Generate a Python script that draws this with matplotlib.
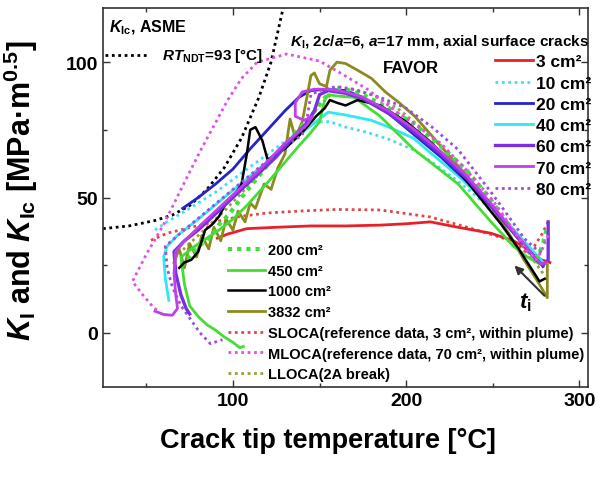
import numpy as np
import matplotlib.pyplot as plt
from matplotlib.ticker import MultipleLocator

plt.rcParams['font.family'] = ['Liberation Sans', 'DejaVu Sans']
plt.rcParams['font.weight'] = 'bold'
plt.rcParams['mathtext.fontset'] = 'custom'
plt.rcParams['mathtext.rm'] = 'Liberation Sans:bold'
plt.rcParams['mathtext.it'] = 'Liberation Sans:italic:bold'
plt.rcParams['mathtext.bf'] = 'Liberation Sans:bold'

# ASME KIc lower bound, RTndt = 93 C
kic_t = [25, 40, 55, 65, 75, 85, 95, 105, 115, 122, 129]
kic_k = [38.5, 39.5, 41.5, 43.5, 47, 53, 61, 72, 87, 100, 120]

# FAVOR KI trajectories (crack tip temperature, KI) per break size
t3 = [91, 97, 108, 125, 145, 165, 185, 200, 214, 230, 249, 262, 270, 278, 283]
k3 = [35, 36.5, 38.5, 39, 39.5, 39.5, 39.8, 40.3, 41, 39, 36.8, 34, 31, 27, 26]

t10 = [55, 62, 75, 90, 105, 120, 135, 148, 156, 165, 178, 190, 204, 215, 230, 245, 258, 268, 275, 279]
k10 = [38, 41, 46, 52, 59, 66, 73, 78, 78, 76, 74, 71.5, 67.7, 63, 56, 48, 40, 33, 28, 25]

t20 = [71, 80, 90, 100, 110, 120, 130, 138, 145, 155, 165, 175, 190, 205, 220, 235, 250, 262, 270, 276, 279]
k20 = [46, 50, 55, 60.5, 68, 75, 82, 87, 89.5, 90, 89.5, 87, 81, 73, 65, 56, 46, 37, 31, 27, 24.5]

t40 = [63, 61, 60, 62, 68, 80, 95, 110, 125, 140, 150, 155, 165, 180, 190, 204, 215, 230, 245, 258, 268, 275, 279]
k40 = [12, 20, 28, 32, 36, 42, 50, 58, 66, 74, 79, 81.5, 80.5, 78.5, 76, 72, 66, 58, 49, 41, 34, 29, 26]

t60 = [282, 282, 279, 275, 270, 262, 250, 235, 220, 205, 190, 175, 165, 155, 150, 147, 142, 133, 125, 115, 100, 90, 80, 72, 66, 67, 70, 73, 75]
k60 = [41, 27, 25, 27, 31, 37, 46, 57, 66, 74, 81, 86.5, 88.5, 89.5, 88, 82, 77, 71, 65, 59, 50, 44, 38, 34, 30, 22, 14, 9, 7]

t70 = [281, 278, 274, 268, 260, 250, 235, 220, 205, 190, 175, 165, 155, 147, 140, 136, 136, 141, 146, 143, 130, 115, 100, 85, 72, 67, 66, 67, 68, 65, 60, 55]
k70 = [26, 25.5, 28, 33, 39, 47, 58, 67, 75, 82, 87, 89, 90, 90, 89, 85, 80, 78.5, 80, 77, 70, 60, 51, 42, 34, 30, 22, 14, 9, 6.5, 6.8, 8]

t80 = [278, 274, 268, 262, 249, 230, 215, 200, 185, 170, 160, 152, 145, 143, 140, 130, 115, 100, 85, 70, 61, 62, 65, 70, 75, 81, 87, 94]
k80 = [29.5, 31.5, 35, 40.5, 52, 67.7, 76, 83, 87, 90, 91, 90, 88, 80, 73, 69, 61, 53, 45, 37, 32, 24, 17, 10, 5.5, 0, -4, -2.5]

t200 = [281, 279, 276, 272, 266, 258, 248, 235, 220, 205, 190, 175, 165, 158, 152, 145, 135, 125, 115, 105, 98, 92, 88, 82, 76, 72, 68]
k200 = [38, 33, 28, 29, 34, 41, 50, 60, 69, 77, 83, 88, 90, 90.5, 86, 80, 73, 66, 58, 50, 44, 40, 36, 33, 29, 26, 24]

t450 = [277, 270, 262, 249, 230, 204, 185, 170, 160, 155, 153, 150, 145, 138, 130, 122, 115, 108, 100, 92, 85, 78, 70, 72, 75, 80, 85, 90, 95, 100, 104, 106]
k450 = [25.5, 28, 32, 41, 55, 68, 80, 87, 87.5, 88, 86, 78, 74, 69, 63, 57, 52, 47, 42, 38, 35, 32, 28, 18, 10, 6, 3, 1, -1.5, -3.5, -5.5, -5]

t1000 = [280, 277, 272, 265, 255, 245, 230, 215, 200, 185, 172, 165, 160, 156, 153, 148, 140, 130, 120, 117, 113, 110, 108, 105, 100, 96, 92, 88, 84, 80, 76, 72, 69]
k1000 = [20, 19, 24, 31, 40, 48, 60, 70, 78, 84, 86, 84, 85, 86, 83, 80, 74, 68, 64, 71, 76, 75, 66, 55, 50, 48, 43, 40, 38, 30, 27, 26, 24]

t3832 = [281.5, 281.5, 275, 268, 260, 250, 235, 220, 205, 196, 188, 180, 172, 165, 160, 156, 154, 150, 147, 145, 143, 140, 136, 133, 130, 126, 122, 118, 113, 110, 107, 103, 100, 96, 93, 89, 86, 82, 79, 75, 72, 69, 66]
k3832 = [25, 13, 20, 27, 36, 46, 58, 69, 80, 85, 89, 94, 97, 99.5, 100, 97, 91, 92, 96, 95, 88, 78, 72, 79, 66, 61, 53, 55, 46, 48, 41, 45, 38, 42, 34, 39, 31, 36, 28, 33, 24, 31, 26]

# reference transients
tS = [282, 278, 273, 269, 266, 256, 237, 214, 185, 160, 139, 120, 104, 81, 62, 52]
kS = [41, 36, 31, 30, 31.6, 35, 38.7, 42.8, 45.4, 45.6, 45, 44.3, 43, 39.8, 36.8, 34]

tM = [282, 278, 275, 270, 262, 250, 235, 220, 205, 195, 177.6, 162, 150, 131, 114, 105, 97, 81, 70, 60, 50, 42, 48, 54, 57]
kM = [36, 30, 27, 30, 38, 49, 60, 70, 77, 81.4, 90, 96, 100.4, 103, 100, 94, 86, 67, 53, 40, 29, 19, 14, 9.5, 8]

tL = [279, 270, 255, 240, 225, 210, 195, 180, 168, 158, 150, 140, 125, 110, 95, 80, 70]
kL = [22, 30, 43, 55, 66, 75, 83, 88, 90, 89, 84, 76, 66, 55, 45, 36, 30]

dot = (0, (1, 1.3))

fig = plt.figure(figsize=(6.01, 4.81), dpi=100)
ax = fig.add_axes([0.1714, 0.1933, 0.8070, 0.7880])

ax.plot(kic_t, kic_k, color='black', ls=dot, lw=2)
# legend sample for the KIc curve
ax.plot([26, 51], [102.5, 102.5], color='black', ls=dot, lw=2)

hS, = ax.plot(tS, kS, color='#e04848', ls=dot, lw=2)
hL, = ax.plot(tL, kL, color='#9c9c40', ls=dot, lw=2)
h3, = ax.plot(t3, k3, color='#e8202a', lw=2)
h10, = ax.plot(t10, k10, color='#40e0f0', ls=dot, lw=2)
h40, = ax.plot(t40, k40, color='#30e8f0', lw=2)
h20, = ax.plot(t20, k20, color='#2424c8', lw=2)
h3832, = ax.plot(t3832, k3832, color='#8c8c1e', lw=2)
h450, = ax.plot(t450, k450, color='#44dd33', lw=2)
h200, = ax.plot(t200, k200, color='#3ee03e', ls=(0, (1, 1.2)), lw=3)
h1000, = ax.plot(t1000, k1000, color='black', lw=1.8)
h80, = ax.plot(t80, k80, color='#9a4ee0', ls=dot, lw=2)
h60, = ax.plot(t60, k60, color='#7a30e0', lw=2.4)
h70, = ax.plot(t70, k70, color='#c040e8', lw=2)
hM, = ax.plot(tM, kM, color='#e050e8', ls=dot, lw=2)

ax.set_xlim(25, 305)
ax.set_ylim(-20, 120)
ax.xaxis.set_major_locator(MultipleLocator(100))
ax.xaxis.set_minor_locator(MultipleLocator(50))
ax.yaxis.set_major_locator(MultipleLocator(50))
ax.yaxis.set_minor_locator(MultipleLocator(25))
ax.tick_params(which='both', direction='in', top=True, right=True, labelsize=14, width=1, color='#333333')
ax.tick_params(which='major', length=5)
ax.tick_params(which='minor', length=3)
for s in ax.spines.values():
    s.set_color('#333333')
    s.set_linewidth(1.2)

ax.set_xlabel('Crack tip temperature [°C]', fontsize=19.5, fontweight='bold')
ax.xaxis.set_label_coords(0.464, -0.105)
ax.set_ylabel(r'$K_\mathrm{I}$ and $K_\mathrm{Ic}$ [MPa·m$^{0.5}$]', fontsize=22, fontweight='bold')
ax.yaxis.set_label_coords(-0.13, 0.52)

ax.text(0.012, 0.975, r'$K_\mathrm{Ic}$, ASME', transform=ax.transAxes, fontsize=11.5, va='top', ha='left')
ax.text(59, 102.5, r'$RT_\mathrm{NDT}$=93 [°C]', fontsize=11, va='center', ha='left')
ax.text(133, 108, r'$K_\mathrm{I}$, 2$c$/$a$=6, $a$=17 mm, axial surface cracks', fontsize=11, va='center', ha='left')
ax.text(203, 98, 'FAVOR', fontsize=12, va='center', ha='center')

ax.annotate('', xy=(261.4, 25.6), xytext=(281, 13),
            arrowprops=dict(arrowstyle='-|>', color='#333333', lw=1.5, mutation_scale=12))
ax.text(269, 11.5, r'$t_\mathrm{i}$', fontsize=16, ha='center', va='center')

leg1 = ax.legend([h3, h10, h20, h40, h60, h70, h80],
                 ['3 cm²', '10 cm²', '20 cm²', '40 cm²', '60 cm²', '70 cm²', '80 cm²'],
                 loc='upper right', bbox_to_anchor=(1.006, 0.878), frameon=False,
                 fontsize=12.5, handlelength=2.2, handletextpad=0.15, labelspacing=0.35,
                 borderpad=0, borderaxespad=0)
ax.add_artist(leg1)
ax.legend([h200, h450, h1000, h3832, hS, hM, hL],
          ['200 cm²', '450 cm²', '1000 cm²', '3832 cm²',
           'SLOCA(reference data, 3 cm², within plume)',
           'MLOCA(reference data, 70 cm², within plume)',
           'LLOCA(2A break)'],
          loc='upper left', bbox_to_anchor=(0.258, 0.38), frameon=False,
          fontsize=10.5, handlelength=2.5, handletextpad=0.2, labelspacing=0.46,
          borderpad=0, borderaxespad=0)

fig.savefig('out.png', dpi=100)
